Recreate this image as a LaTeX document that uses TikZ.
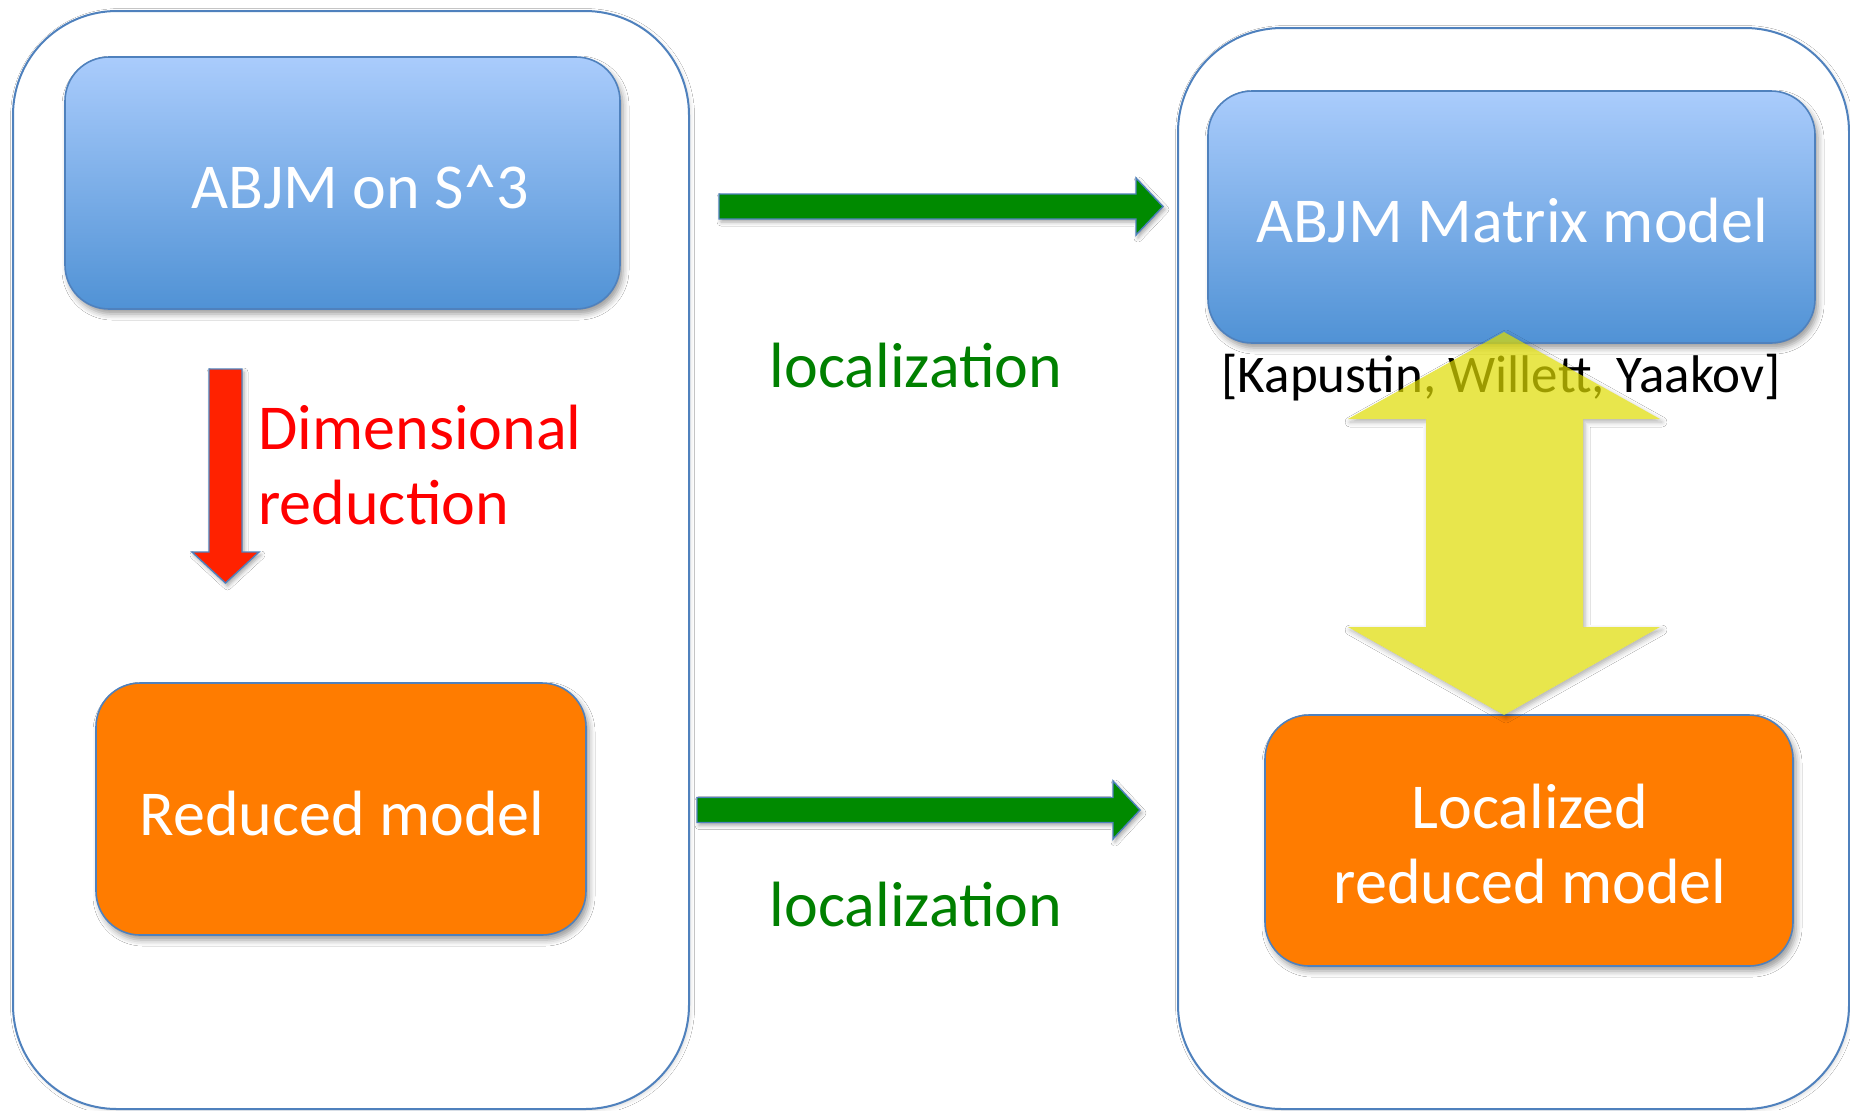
\documentclass[tikz,border=0pt]{standalone}
\usepackage{fontspec}
\setmainfont{Carlito}
\usetikzlibrary{shadows.blur}
\definecolor{bordblue}{RGB}{79,129,189}
\definecolor{bluetop}{RGB}{170,204,252}
\definecolor{bluebot}{RGB}{80,146,213}
\definecolor{boxorange}{RGB}{255,124,0}
\definecolor{arrgreen}{RGB}{0,138,0}
\definecolor{txtgreen}{RGB}{0,128,0}
\definecolor{arrred}{RGB}{255,34,0}
\definecolor{txtred}{RGB}{255,0,0}
\definecolor{arryellow}{RGB}{223,220,0}
\tikzset{
  outerbox/.style={draw=bordblue, line width=1pt, rounded corners=52pt, inner sep=0pt, outer sep=0pt, fill=white,
    blur shadow={shadow xshift=0.8pt, shadow yshift=-0.8pt, shadow blur radius=2pt, shadow opacity=15}},
  boxshadow/.style={blur shadow={shadow xshift=1.5pt, shadow yshift=-2.5pt, shadow blur radius=3pt, shadow opacity=40}},
  bluebox/.style={draw=bordblue, line width=0.8pt, rounded corners=22pt, inner sep=0pt, outer sep=0pt,
    top color=bluetop, bottom color=bluebot, boxshadow},
  orangebox/.style={draw=bordblue, line width=0.8pt, rounded corners=22pt, inner sep=0pt, outer sep=0pt,
    fill=boxorange, boxshadow},
  bigfont/.style={font=\fontsize{32}{37.5}\selectfont},
  whitelbl/.style={bigfont, text=white, inner sep=0pt, anchor=base},
  greenlbl/.style={bigfont, text=txtgreen, inner sep=0pt, anchor=base},
  blockarrow/.style={draw=bordblue, line width=0.7pt, line join=miter,
    blur shadow={shadow xshift=1pt, shadow yshift=-1.5pt, shadow blur radius=2pt, shadow opacity=35}},
}
\begin{document}
\begin{tikzpicture}[x=0.5pt,y=-0.5pt]
\useasboundingbox (0,0) rectangle (1850,1110);
\fill[white] (0,0) rectangle (1850,1110);

% outer panels
\node[outerbox, minimum width=338pt, minimum height=549pt] (outerL) at (351,560) {};
\node[outerbox, minimum width=335.5pt, minimum height=540.5pt] (outerR) at (1513.5,568.5) {};

% boxes
\node[bluebox, minimum width=277.5pt, minimum height=126pt] (abjm) at (342.5,183) {};
\node[bluebox, minimum width=303.5pt, minimum height=126pt] (matrix) at (1511.5,217) {};
\node[orangebox, minimum width=245pt, minimum height=126pt] (reduced) at (341,809) {};
\node[orangebox, minimum width=264pt, minimum height=125.5pt] (locred) at (1529,840.5) {};

% box texts
\node[whitelbl] (abjmtxt) at (360,208) {ABJM on S\textasciicircum 3};
\node[whitelbl] (matrixtxt) at (1512,242) {ABJM Matrix model};
\node[whitelbl] (reducedtxt) at (342,835) {Reduced model};
\node[whitelbl] (locredtxt) at (1530,828)
  {\vtop{\halign{\hfil#\hfil\cr Localized\cr reduced model\cr}}};

% citation
\node[font=\fontsize{26.5}{30}\selectfont, text=black, inner sep=0pt, anchor=base] (cite) at (1501,392)
  {[Kapustin, Willett, Yaakov]};

% green arrows
\fill[arrgreen, blockarrow] (719,194) -- (1136,194) -- (1136,178) -- (1163,206.5) -- (1136,235) -- (1136,219) -- (719,219) -- cycle;
\fill[arrgreen, blockarrow] (697,797.5) -- (1113,797.5) -- (1113,781) -- (1140,810) -- (1113,839) -- (1113,822.5) -- (697,822.5) -- cycle;
\node[greenlbl] (loc1) at (916,387) {localization};
\node[greenlbl] (loc2) at (916,926) {localization};

% red arrow
\fill[arrred, blockarrow] (209,369) -- (242,369) -- (242,552) -- (259,552) -- (225.5,583) -- (192,552) -- (209,552) -- cycle;
\node[bigfont, text=txtred, inner sep=0pt, anchor=base west] (dimtxt) at (258,449)
  {\vtop{\hbox{Dimensional}\hbox{reduction}}};

% yellow double arrow: shadow only outside the arrow, then translucent fill
\def\yarrow{(1504,332) -- (1660,419) -- (1583,419) -- (1583,627) -- (1660,627) -- (1504,715)
  -- (1348,627) -- (1426,627) -- (1426,419) -- (1348,419) -- cycle}
\begin{scope}[even odd rule]
  \clip (1200,250) rectangle (1800,800) \yarrow;
  \path[blur shadow={shadow xshift=1pt, shadow yshift=-1.5pt, shadow blur radius=2.5pt, shadow opacity=30}] \yarrow;
\end{scope}
\fill[arryellow, fill opacity=0.7] \yarrow;
\end{tikzpicture}
\end{document}
